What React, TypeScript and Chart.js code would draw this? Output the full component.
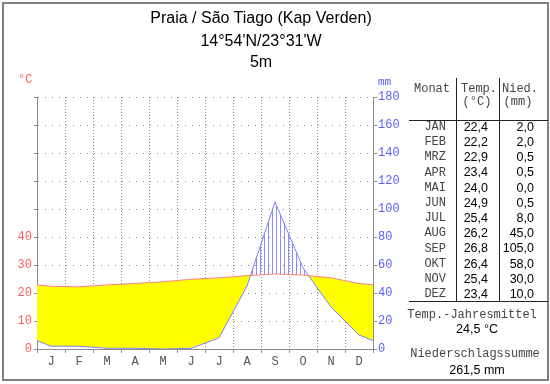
import React, { useEffect, useRef } from "react";
import { Chart, registerables } from "chart.js";

Chart.register(...registerables);

// ---- data ----
const TITLE_LINES = ["Praia / São Tiago (Kap Verden)", "14°54'N/23°31'W", "5m"];
const MONTH_LETTERS = ["J", "F", "M", "A", "M", "J", "J", "A", "S", "O", "N", "D"];
const MONTH_NAMES = ["JAN", "FEB", "MRZ", "APR", "MAI", "JUN", "JUL", "AUG", "SEP", "OKT", "NOV", "DEZ"];
const TEMPERATURE = [22.4, 22.2, 22.9, 23.4, 24.0, 24.9, 25.4, 26.2, 26.8, 26.4, 25.4, 23.4];
const PRECIPITATION = [2.0, 2.0, 0.5, 0.5, 0.0, 0.5, 8.0, 45.0, 105.0, 58.0, 30.0, 10.0];
const TEMP_LABELLED_MAX = 40;
const TEMP_AXIS_MAX = 90;
const PRECIP_AXIS_MAX = 180;
const ANNUAL_MEAN_TEMP = "24,5 °C";
const ANNUAL_PRECIP_SUM = "261,5 mm";

// ---- styles ----
const RED = "#ff5c5c";
const BLUE = "#5c5cff";
const GRID = "#8c8c8c";
const MONO = "'Liberation Mono', 'DejaVu Sans Mono', monospace";
const SANS = "'Liberation Sans', Arial, sans-serif";
const MONO_TEXT = "#444";

const fmt = (v: number) => v.toFixed(1).replace(".", ",");

// month values placed at month centres, with the neighbouring year-wrap values outside the plot
function wrapSeries(values: number[]) {
  const n = values.length;
  return [
    { x: -0.5, y: values[n - 1] },
    ...values.map((v, i) => ({ x: i + 0.5, y: v })),
    { x: n + 0.5, y: values[0] },
  ];
}

type Align = "left" | "right" | "center";
function Txt(props: {
  s: string;
  x: number;
  y: number;
  align?: Align;
  font?: string;
  size?: number;
  color?: string;
}) {
  const { s, x, y, align = "left", font = SANS, size = 13, color = "#000" } = props;
  const w = 300;
  const left = align === "left" ? x : align === "right" ? x - w : x - w / 2;
  return (
    <div
      style={{
        position: "absolute",
        left,
        top: y - size / 2,
        width: w,
        height: size,
        lineHeight: `${size}px`,
        fontFamily: font,
        fontSize: size,
        color,
        textAlign: align,
        whiteSpace: "pre",
      }}
    >
      {s}
    </div>
  );
}

function Line(props: { x: number; y: number; w: number; h: number; color?: string }) {
  return (
    <div
      style={{
        position: "absolute",
        left: props.x,
        top: props.y,
        width: props.w,
        height: props.h,
        background: props.color || "#000",
      }}
    />
  );
}

export default function App() {
  const canvasRef = useRef<HTMLCanvasElement | null>(null);

  useEffect(() => {
    const canvas = canvasRef.current;
    if (!canvas) return;
    const ctx = canvas.getContext("2d");
    if (!ctx) return;

    const pc = document.createElement("canvas");
    pc.width = 4;
    pc.height = 4;
    const pctx = pc.getContext("2d")!;
    pctx.fillStyle = "#8c8cff";
    pctx.fillRect(0, 0, 1, 4);
    const hatch = ctx.createPattern(pc, "repeat");

    const tickFont = { family: MONO, size: 12 };

    const chart = new Chart(ctx, {
      type: "line",
      data: {
        datasets: [
          {
            label: "Temperatur",
            data: wrapSeries(TEMPERATURE),
            xAxisID: "x",
            yAxisID: "yT",
            borderColor: "#ff8080",
            borderWidth: 1,
            pointRadius: 0,
            tension: 0,
            fill: false,
          },
          {
            label: "Niederschlag",
            data: wrapSeries(PRECIPITATION),
            xAxisID: "x",
            yAxisID: "yP",
            borderColor: "#8080ff",
            borderWidth: 1,
            pointRadius: 0,
            tension: 0,
            fill: { target: 0, above: hatch as any, below: "#ffff00" },
          },
        ],
      },
      options: {
        animation: false,
        responsive: false,
        devicePixelRatio: 1,
        events: [],
        layout: { padding: { top: 97, left: 0, right: 0, bottom: 0 } },
        plugins: {
          legend: { display: false },
          tooltip: { enabled: false },
          title: { display: false },
        },
        scales: {
          x: {
            type: "linear",
            min: 0,
            max: 12,
            z: 1,
            afterFit: (s: any) => {
              s.height = 35;
            },
            grid: { color: GRID, tickColor: GRID, tickLength: 4, lineWidth: 1 },
            border: { color: GRID, dash: [1, 2] },
            ticks: {
              stepSize: 1,
              autoSkip: false,
              maxRotation: 0,
              minRotation: 0,
              labelOffset: 14,
              padding: 2,
              color: "#555555",
              font: tickFont,
              callback: (v: any) => MONTH_LETTERS[v as number] ?? "",
            },
          },
          yT: {
            type: "linear",
            position: "left",
            min: 0,
            max: TEMP_AXIS_MAX,
            z: 1,
            afterFit: (s: any) => {
              s.width = 37;
            },
            grid: { color: GRID, tickColor: GRID, tickLength: 3, lineWidth: 1 },
            border: { color: GRID, dash: [1, 6] },
            ticks: {
              stepSize: 10,
              padding: 2,
              color: RED,
              font: tickFont,
              callback: (v: any) => ((v as number) <= TEMP_LABELLED_MAX ? String(v) : ""),
            },
          },
          yP: {
            type: "linear",
            position: "right",
            min: 0,
            max: PRECIP_AXIS_MAX,
            z: 1,
            afterFit: (s: any) => {
              s.width = 177;
            },
            grid: { drawOnChartArea: false, color: GRID, tickColor: GRID, tickLength: 4 },
            border: { color: GRID },
            ticks: {
              stepSize: 20,
              padding: 1,
              color: BLUE,
              font: tickFont,
              callback: (v: any) => String(v),
            },
          },
        },
      } as any,
    });

    return () => chart.destroy();
  }, []);

  const rowY = (i: number) => 127 + i * 15.2;

  return (
    <div
      style={{
        position: "absolute",
        left: 0,
        top: 0,
        width: 550,
        height: 384,
        background: "#fff",
        overflow: "hidden",
      }}
    >
      <canvas
        ref={canvasRef}
        width={550}
        height={384}
        style={{ position: "absolute", left: 0, top: 0, width: 550, height: 384 }}
      />
      <div
        style={{
          position: "absolute",
          left: 2,
          top: 2,
          width: 547,
          height: 379,
          boxSizing: "border-box",
          border: "2px solid #808080",
        }}
      />
      {TITLE_LINES.map((t, i) => (
        <Txt key={"t" + i} s={t} x={261} y={[18, 41, 62][i]} align="center" size={16} />
      ))}
      <Txt s="°C" x={18} y={80} font={MONO} size={12} color={RED} />
      <Txt s="mm" x={378} y={82} font={MONO} size={11} color={BLUE} />

      {/* table */}
      <Line x={456} y={78} w={1} h={223} color="#222" />
      <Line x={499} y={78} w={1} h={223} color="#222" />
      <Line x={409} y={120} w={139} h={1} color="#222" />
      <Line x={409} y={301} w={139} h={1} color="#222" />
      <Txt s="Monat" x={414} y={89} font={MONO} size={12} color={MONO_TEXT} />
      <Txt s="Temp." x={461} y={89} font={MONO} size={12} color={MONO_TEXT} />
      <Txt s="Nied." x={502} y={89} font={MONO} size={12} color={MONO_TEXT} />
      <Txt s="(°C)" x={477} y={102} align="center" font={MONO} size={12} color={MONO_TEXT} />
      <Txt s="(mm)" x={518} y={102} align="center" font={MONO} size={12} color={MONO_TEXT} />
      {MONTH_NAMES.map((m, i) => (
        <React.Fragment key={m}>
          <Txt s={m} x={446} y={rowY(i)} align="right" font={MONO} size={12} color={MONO_TEXT} />
          <Txt s={fmt(TEMPERATURE[i])} x={488} y={rowY(i)} align="right" size={12.5} />
          <Txt s={fmt(PRECIPITATION[i])} x={534} y={rowY(i)} align="right" size={12.5} />
        </React.Fragment>
      ))}
      <Txt s="Temp.-Jahresmittel" x={472} y={315} align="center" font={MONO} size={12} color={MONO_TEXT} />
      <Txt s={ANNUAL_MEAN_TEMP} x={477} y={329} align="center" size={12.5} />
      <Txt s="Niederschlagssumme" x={475} y={354} align="center" font={MONO} size={12} color={MONO_TEXT} />
      <Txt s={ANNUAL_PRECIP_SUM} x={477} y={370} align="center" size={12.5} />
    </div>
  );
}
